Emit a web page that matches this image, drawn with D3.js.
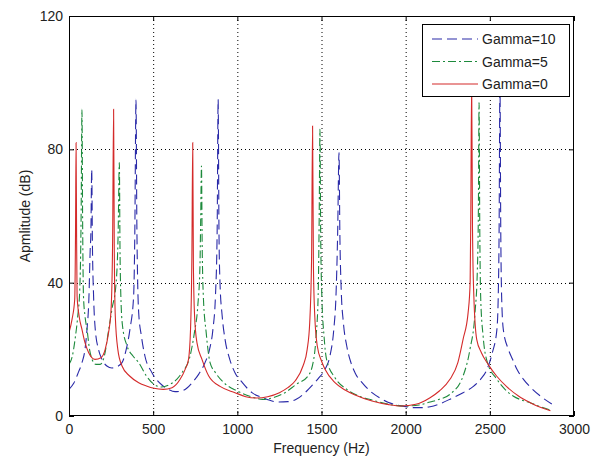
<!DOCTYPE html>
<html><head><meta charset="utf-8">
<script src="https://cdn.jsdelivr.net/npm/d3@7"></script>
<style>
html,body{margin:0;padding:0;background:#fff;}
svg text{font-family:"Liberation Sans",Arial,sans-serif;fill:#222;}
</style></head>
<body><svg id="c" width="597" height="459"></svg>
<script>
const xTicks = [0,500,1000,1500,2000,2500,3000];
const yTicks = [0,40,80,120];
const seriesNames = ["Gamma=10","Gamma=5","Gamma=0"];
const gamma0 = [[0,25],[18,29],[34,35],[39,57],[42,82],[45,55],[48,36],[60,30],[77,26],[95,22],[117,19],[155,17],[190,17.5],[215,20],[235,25],[250,32],[259,52],[265,92],[269,50],[275,30],[290,20],[315,15],[360,12],[414,10],[460,9],[505,8.3],[560,8],[612,8.5],[660,11],[690,14],[710,17],[722,26],[730,48],[735,82],[739,45],[746,30],[760,22],[790,17],[830,12],[900,8.8],[986,7],[1050,5.8],[1115,5.4],[1180,5.8],[1250,7],[1300,8.5],[1343,10.5],[1390,15],[1415,20],[1430,28],[1441,47],[1447,87],[1452,45],[1460,30],[1475,21],[1500,16.5],[1521,14],[1580,10],[1640,7.8],[1700,6.3],[1800,4.5],[1900,3.4],[1976,3],[2060,3.5],[2145,5.5],[2200,7.5],[2263,11],[2310,16],[2341,23],[2371,31],[2383,40],[2387,61],[2392,100],[2397,56],[2405,36],[2422,23],[2450,19],[2490,15.5],[2540,12],[2600,8.8],[2670,6],[2740,4],[2800,2.6],[2860,1.6]];
const gamma5 = [[0,15.5],[20,18],[36,23],[52,30],[64,38],[72,60],[77,92],[81,58],[86,36],[95,30],[107,26],[122,20],[137,17],[160,15.5],[185,15.5],[210,18],[236,26],[255,32],[280,40],[292,55],[299,76],[303,50],[308,36],[318,27],[345,21],[380,18],[414,16],[460,12],[511,9.3],[550,8.7],[600,9.5],[640,11],[671,13],[719,18],[745,25],[765,33],[778,45],[782,58],[787,75],[791,52],[798,36],[815,25],[838,16],[870,13],[920,10],[1000,7.5],[1080,5.8],[1150,5],[1220,5.6],[1283,7],[1350,9.5],[1420,12],[1450,16],[1468,24],[1480,36],[1486,58],[1491,86],[1495,55],[1502,36],[1515,24],[1530,17],[1580,11.5],[1650,8],[1720,6],[1800,4.8],[1900,3.5],[2000,3],[2080,3.3],[2145,4.2],[2200,5],[2263,6.5],[2341,12],[2382,20],[2412,31],[2426,44],[2432,62],[2436,94],[2440,58],[2446,35],[2460,24],[2483,16.5],[2542,11],[2590,8],[2638,6],[2700,4.6],[2740,4],[2800,2.8],[2860,1.8]];
const gamma10 = [[0,8],[28,9.8],[55,13],[77,16],[95,20],[107,26],[118,35],[126,50],[130,55],[135,74],[139,52],[146,36],[156,26],[175,20],[196,17],[225,15],[255,14.4],[285,14.8],[315,16],[340,20],[362,26],[384,36],[391,55],[398,95],[403,58],[408,40],[414,31],[430,24],[451,18],[493,13],[552,9.3],[590,8],[630,7.3],[670,7.5],[701,8.4],[740,10.5],[770,12.5],[808,16],[835,20],[855,26],[870,36],[880,55],[886,95],[891,55],[897,40],[910,30],[927,23],[955,17],[986,13],[1030,10],[1087,7],[1150,5.5],[1242,4.2],[1300,4.3],[1350,5],[1402,7],[1450,9.5],[1485,11.5],[1521,14],[1550,18],[1573,26],[1586,36],[1596,55],[1604,79],[1609,55],[1617,38],[1630,28],[1650,21],[1675,16],[1699,13],[1750,9.5],[1800,7],[1850,5.3],[1895,4.1],[1950,3.3],[2000,2.8],[2050,2.5],[2100,2.5],[2145,2.8],[2200,3.6],[2270,5.2],[2341,7],[2400,8.8],[2445,11],[2483,14],[2515,19],[2542,26],[2550,36],[2555,55],[2560,100],[2565,55],[2570,36],[2580,26],[2610,20],[2635,17],[2661,14],[2700,11],[2740,8.7],[2800,6],[2868,3.6]];

const L=69,R=574,T=16,B=416;
const svg=d3.select("#c");
const x=d3.scaleLinear().domain([0,3000]).range([L,R]);
const y=d3.scaleLinear().domain([0,120]).range([B,T]);

// grid
const g=svg.append("g");
g.selectAll("line.vx").data(xTicks.slice(1,-1)).join("line")
 .attr("x1",d=>x(d)+0.5).attr("x2",d=>x(d)+0.5).attr("y1",T).attr("y2",B)
 .attr("stroke","#000").attr("stroke-width",1).attr("stroke-dasharray","1,3");
g.selectAll("line.hy").data(yTicks.slice(1,-1)).join("line")
 .attr("y1",d=>Math.round(y(d))+0.5).attr("y2",d=>Math.round(y(d))+0.5).attr("x1",L).attr("x2",R)
 .attr("stroke","#000").attr("stroke-width",1).attr("stroke-dasharray","1,3");

// lines
svg.append("clipPath").attr("id","pc").append("rect").attr("x",L).attr("y",T).attr("width",R-L).attr("height",B-T);
const line=d3.line().x(d=>x(d[0])).y(d=>y(d[1])).curve(d3.curveMonotoneX);
const styles=[
 {data:gamma10,color:"#2a2aa8",dash:"10,5"},
 {data:gamma5,color:"#1d8a3c",dash:"8,3,2,3"},
 {data:gamma0,color:"#d42a2a",dash:null}
];
const lg=svg.append("g").attr("clip-path","url(#pc)");
styles.forEach(s=>{
  lg.append("path").datum(s.data).attr("d",line).attr("fill","none")
   .attr("stroke",s.color).attr("stroke-width",1.1)
   .attr("stroke-dasharray",s.dash);
});

// axes
const fs="14px";
const ax=svg.append("g").attr("transform",`translate(0,${B})`)
 .call(d3.axisBottom(x).tickValues(xTicks).tickSize(-5).tickPadding(8).tickFormat(d3.format("d")));
const axT=svg.append("g").attr("transform",`translate(0,${T})`)
 .call(d3.axisTop(x).tickValues(xTicks).tickSize(-5).tickFormat(""));
const ay=svg.append("g").attr("transform",`translate(${L},0)`)
 .call(d3.axisLeft(y).tickValues(yTicks).tickSize(-5).tickPadding(6));
const ayR=svg.append("g").attr("transform",`translate(${R},0)`)
 .call(d3.axisRight(y).tickValues(yTicks).tickSize(-5).tickFormat(""));
[ax,axT,ay,ayR].forEach(a=>{
  a.select(".domain").remove();
  a.selectAll("line").attr("stroke","#000");
  a.selectAll("text").attr("font-size",fs).attr("font-family","Liberation Sans, Arial, sans-serif").attr("fill","#222");
});
svg.append("rect").attr("x",L+0.5).attr("y",T+0.5).attr("width",R-L-1).attr("height",B-T-1)
 .attr("fill","none").attr("stroke","#000").attr("stroke-width",1);

// titles
svg.append("text").attr("x",(L+R)/2).attr("y",453).attr("text-anchor","middle").attr("font-size",fs).text("Frequency (Hz)");
svg.append("text").attr("transform",`translate(30,${(T+B)/2}) rotate(-90)`).attr("text-anchor","middle").attr("font-size",fs).text("Apmlitude (dB)");

// legend
const lx=422,ly=24,lw=147,lh=72;
const leg=svg.append("g");
leg.append("rect").attr("x",lx+0.5).attr("y",ly+0.5).attr("width",lw).attr("height",lh).attr("fill","#fff").attr("stroke","#000");
const rows=[39,61.5,84];
styles.forEach((s,i)=>{
  leg.append("line").attr("x1",432).attr("x2",478).attr("y1",rows[i]).attr("y2",rows[i])
    .attr("stroke",s.color).attr("stroke-width",1.1).attr("stroke-dasharray",s.dash);
  leg.append("text").attr("x",482).attr("y",rows[i]).attr("dy","0.36em").attr("font-size",fs).text(seriesNames[i]);
});
</script></body></html>
